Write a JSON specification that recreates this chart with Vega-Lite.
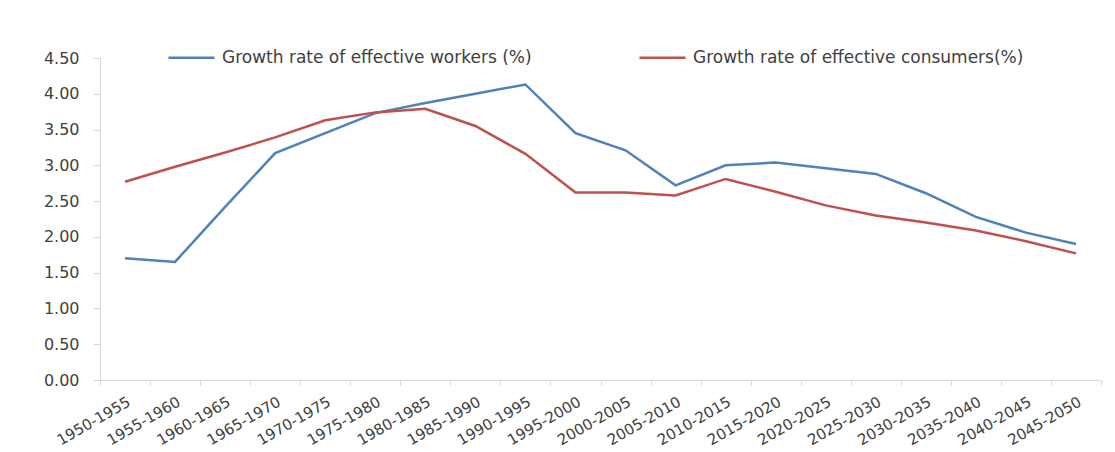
{
  "$schema": "https://vega.github.io/schema/vega-lite/v6.json",
  "width": 1001,
  "height": 322,
  "autosize": {"type": "none"},
  "padding": {"left": 100, "top": 58, "right": 14, "bottom": 72},
  "background": "white",
  "config": {"view": {"stroke": null}, "font": "DejaVu Sans"},
  "data": {"values": [
    {"period": "1950-1955", "series": "Growth rate of effective workers (%)", "rate": 1.70},
    {"period": "1955-1960", "series": "Growth rate of effective workers (%)", "rate": 1.65},
    {"period": "1960-1965", "series": "Growth rate of effective workers (%)", "rate": 2.42},
    {"period": "1965-1970", "series": "Growth rate of effective workers (%)", "rate": 3.17},
    {"period": "1970-1975", "series": "Growth rate of effective workers (%)", "rate": 3.45},
    {"period": "1975-1980", "series": "Growth rate of effective workers (%)", "rate": 3.73},
    {"period": "1980-1985", "series": "Growth rate of effective workers (%)", "rate": 3.87},
    {"period": "1985-1990", "series": "Growth rate of effective workers (%)", "rate": 4.00},
    {"period": "1990-1995", "series": "Growth rate of effective workers (%)", "rate": 4.13},
    {"period": "1995-2000", "series": "Growth rate of effective workers (%)", "rate": 3.45},
    {"period": "2000-2005", "series": "Growth rate of effective workers (%)", "rate": 3.21},
    {"period": "2005-2010", "series": "Growth rate of effective workers (%)", "rate": 2.72},
    {"period": "2010-2015", "series": "Growth rate of effective workers (%)", "rate": 3.00},
    {"period": "2015-2020", "series": "Growth rate of effective workers (%)", "rate": 3.04},
    {"period": "2020-2025", "series": "Growth rate of effective workers (%)", "rate": 2.96},
    {"period": "2025-2030", "series": "Growth rate of effective workers (%)", "rate": 2.88},
    {"period": "2030-2035", "series": "Growth rate of effective workers (%)", "rate": 2.61},
    {"period": "2035-2040", "series": "Growth rate of effective workers (%)", "rate": 2.28},
    {"period": "2040-2045", "series": "Growth rate of effective workers (%)", "rate": 2.06},
    {"period": "2045-2050", "series": "Growth rate of effective workers (%)", "rate": 1.90},
    {"period": "1950-1955", "series": "Growth rate of effective consumers(%)", "rate": 2.77},
    {"period": "1955-1960", "series": "Growth rate of effective consumers(%)", "rate": 2.98},
    {"period": "1960-1965", "series": "Growth rate of effective consumers(%)", "rate": 3.18},
    {"period": "1965-1970", "series": "Growth rate of effective consumers(%)", "rate": 3.39},
    {"period": "1970-1975", "series": "Growth rate of effective consumers(%)", "rate": 3.63},
    {"period": "1975-1980", "series": "Growth rate of effective consumers(%)", "rate": 3.74},
    {"period": "1980-1985", "series": "Growth rate of effective consumers(%)", "rate": 3.79},
    {"period": "1985-1990", "series": "Growth rate of effective consumers(%)", "rate": 3.55},
    {"period": "1990-1995", "series": "Growth rate of effective consumers(%)", "rate": 3.16},
    {"period": "1995-2000", "series": "Growth rate of effective consumers(%)", "rate": 2.62},
    {"period": "2000-2005", "series": "Growth rate of effective consumers(%)", "rate": 2.62},
    {"period": "2005-2010", "series": "Growth rate of effective consumers(%)", "rate": 2.58},
    {"period": "2010-2015", "series": "Growth rate of effective consumers(%)", "rate": 2.81},
    {"period": "2015-2020", "series": "Growth rate of effective consumers(%)", "rate": 2.63},
    {"period": "2020-2025", "series": "Growth rate of effective consumers(%)", "rate": 2.44},
    {"period": "2025-2030", "series": "Growth rate of effective consumers(%)", "rate": 2.30},
    {"period": "2030-2035", "series": "Growth rate of effective consumers(%)", "rate": 2.20},
    {"period": "2035-2040", "series": "Growth rate of effective consumers(%)", "rate": 2.09},
    {"period": "2040-2045", "series": "Growth rate of effective consumers(%)", "rate": 1.94},
    {"period": "2045-2050", "series": "Growth rate of effective consumers(%)", "rate": 1.77}
  ]},
  "mark": {"type": "line", "strokeWidth": 2.5},
  "encoding": {
    "x": {
      "field": "period", "type": "nominal", "sort": null, "bandPosition": 0.5,
      "scale": {"type": "band", "paddingInner": 0, "paddingOuter": 0},
      "axis": {
        "title": null, "tickBand": "extent", "labelAngle": -30, "labelAlign": "right", "labelBaseline": "top",
        "labelFontSize": 15, "labelColor": "#404040", "domainColor": "#d9d9d9", "tickColor": "#d9d9d9",
        "tickSize": 5, "labelPadding": 9, "grid": false
      }
    },
    "y": {
      "field": "rate", "type": "quantitative",
      "scale": {"domain": [0, 4.5], "nice": false},
      "axis": {
        "title": null, "values": [0, 0.5, 1, 1.5, 2, 2.5, 3, 3.5, 4, 4.5], "format": ".2f",
        "labelFontSize": 16, "labelColor": "#404040", "domainColor": "#d9d9d9", "tickColor": "#d9d9d9",
        "tickSize": 7, "labelPadding": 14, "grid": false
      }
    },
    "color": {
      "field": "series", "type": "nominal",
      "scale": {"domain": ["Growth rate of effective workers (%)", "Growth rate of effective consumers(%)"], "range": ["#4F81BD", "#C0504D"]},
      "legend": {
        "title": null, "orient": "none", "legendX": 67, "legendY": -25, "direction": "horizontal",
        "symbolType": "stroke", "symbolSize": 2116, "symbolStrokeWidth": 2.5,
        "labelFontSize": 17, "labelColor": "#404040", "columnPadding": 102, "labelOffset": 6, "labelLimit": 500
      }
    }
  }
}
